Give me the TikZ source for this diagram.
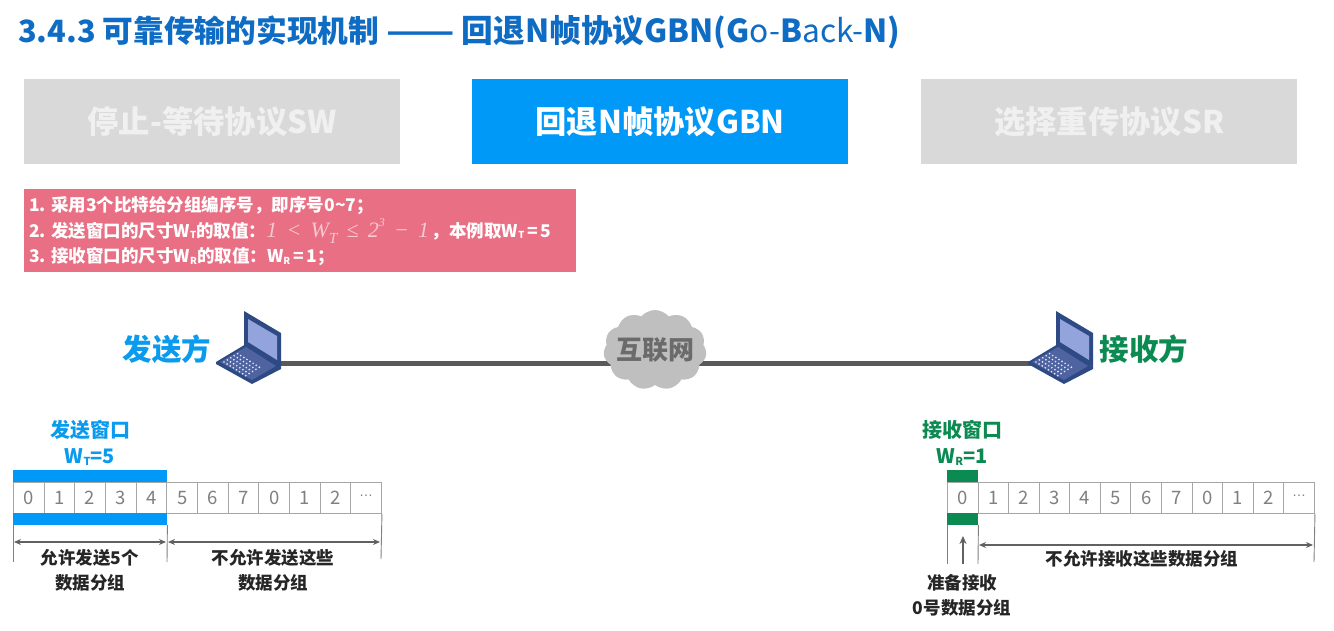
\documentclass[tikz,border=0pt]{standalone}
\usepackage{fontspec}
\setmainfont{Noto Sans CJK SC}
\newfontfamily\serifit{Liberation Serif}
\newfontfamily\dotfont{Liberation Sans}
\usetikzlibrary{arrows.meta,shapes.symbols}
\newcommand\fsz[2]{\fontsize{#1}{#2}\selectfont}
\newcommand\sbs[1]{\raisebox{-0.1em}{\scalebox{0.55}{#1}}}
\newcommand\celldots{{\dotfont\fsz{14}{14}\raisebox{0.25em}{…}}}
\definecolor{titleblue}{HTML}{0F6CC4}
\definecolor{tabgrey}{HTML}{D9D9D9}
\definecolor{tabblue}{HTML}{0099F7}
\definecolor{pinkbox}{HTML}{E96F84}
\definecolor{skyblue}{HTML}{0A9BEF}
\definecolor{dgreen}{HTML}{0B8A52}
\definecolor{lapdark}{HTML}{2E4A85}
\definecolor{lapscreen}{HTML}{93A3DC}
\definecolor{lapbase}{HTML}{4E639F}
\tikzset{
  x=1pt,y=-1pt,
  tab/.style={minimum width=376pt,minimum height=85pt,inner sep=0pt,anchor=north west,font=\fsz{31.3}{36}\bfseries},
  pinkline/.style={anchor=west,inner sep=0pt,text=white,font=\fsz{17.5}{20}\bfseries},
  cell/.style={draw=black!35,line width=0.9pt,fill=white,minimum width=30.67pt,minimum height=31pt,inner sep=0pt,anchor=north west,text=black!50,font=\fsz{18.5}{20}},
  winbar/.style={minimum width=#1,minimum height=11.5pt,inner sep=0pt,anchor=north west},
  tick/.style={draw=black!50,line width=0.9pt},
  dim/.style={draw=black!62,line width=1.6pt,{Stealth[length=7pt,width=6pt]}-{Stealth[length=7pt,width=6pt]}},
  upar/.style={draw=black!62,line width=1.6pt,-{Stealth[length=8pt,width=7pt]}},
  lbl/.style={align=center,inner sep=0pt,text=black!85,font=\fsz{17.5}{25}\bfseries},
  wintitle/.style={align=center,inner sep=0pt,font=\fsz{20}{26}\bfseries},
  party/.style={inner sep=0pt,font=\fsz{29.5}{32}\bfseries},
  link/.style={draw=black!65,line width=5pt},
  netcloud/.style={cloud,cloud puffs=11,cloud puff arc=100,aspect=1.3,fill=black!25,inner sep=0pt,minimum width=103pt,minimum height=80pt},
  netlabel/.style={inner sep=0pt,text=black!58,font=\fsz{26}{28}\bfseries},
}
\newcommand\laptop[1]{%
  \begin{scope}[shift={(#1,0)}]
    \fill[lapdark] (244,311) -- (281,333) -- (281,367) -- (246,347) -- (244,345) -- cycle;
    \fill[lapscreen] (248,319) -- (277,336) -- (277,360) -- (248,342) -- cycle;
    \fill[lapdark] (216,362) -- (246,344) -- (281,367) -- (281,369) -- (252,384) -- (216,364) -- cycle;
    \fill[lapbase] (220,362) -- (246,347) -- (276,366) -- (252,380) -- cycle;
    \foreach \a in {0,...,7}{\foreach \b in {0,...,4}{
      \fill[white!85!lapbase] ({224+\a*3.1+\b*3.4},{362+\a*1.95-\b*2.1}) circle (0.95pt);}}
  \end{scope}}
\begin{document}
\begin{tikzpicture}
\useasboundingbox (0,0) rectangle (1334,631);
\fill[white] (0,0) rectangle (1334,631);

% title
\node[anchor=west,inner sep=0pt,text=titleblue,font=\fsz{30.7}{34}\bfseries] (title) at (18,32)
  {3.4.3 可靠传输的实现机制 \scalebox{1.3}[1]{——} {\fsz{31.7}{34}回退N帧协议GBN(G{\mdseries o-}B{\mdseries ack-}N)}};

% tabs
\node[tab,fill=tabgrey,text=white!94!black] (tabsw) at (24,79) {停止-等待协议SW};
\node[tab,fill=tabblue,text=white] (tabgbn) at (472,79) {回退N帧协议GBN};
\node[tab,fill=tabgrey,text=white!94!black] (tabsr) at (921,79) {选择重传协议SR};

% rules box
\node[fill=pinkbox,minimum width=552pt,minimum height=83pt,inner sep=0pt,anchor=north west] (rules) at (24,189) {};
\node[pinkline] (r1) at (29,205.5) {1. 采用3个比特给分组编序号，即序号0\textasciitilde 7；};
\node[pinkline] (r2) at (29,231) {2. 发送窗口的尺寸W\sbs{T}的取值：{\serifit\mdseries\itshape\fsz{22}{22}\color{white!62!pinkbox}1 \,<\, W\raisebox{-0.3em}{\scalebox{0.7}{T}} \,≤\, 2\raisebox{0.5em}{\scalebox{0.55}{3}} \,−\, 1}\,，本例取W\sbs{T}\,=\,5};
\node[pinkline] (r3) at (29,256.5) {3. 接收窗口的尺寸W\sbs{R}的取值：W\sbs{R}\,=\,1；};

% network
\coordinate (sendport) at (270,363);
\coordinate (recvport) at (1045,363);
\coordinate (netport) at (655,363);
\draw[link] (sendport) -- (netport);
\draw[link] (netport) -- (recvport);
\node[netcloud] (net) at (655,350) {};
\node[netlabel] (netname) at (net.center) {互联网};
\laptop{0}
\laptop{812}
\node[party,text=skyblue] (sender) at (167,349) {发送方};
\node[party,text=dgreen] (receiver) at (1144,349) {接收方};

% sender window
\node[wintitle,text=skyblue] (swin) at (90,443) {发送窗口\\W\sbs{T}=5};
\foreach \i/\t in {0/0,1/1,2/2,3/3,4/4,5/5,6/6,7/7,8/0,9/1,10/2,11/\celldots}
  \node[cell] (s\i) at ({13+\i*30.67},482) {\t};
\node[winbar=154pt,fill=tabblue] (stop) at (13,470) {};
\node[winbar=154pt,fill=tabblue] (sbot) at (13,513) {};

\coordinate (s1end) at (13,562);
\coordinate (s2end) at (167,562);
\coordinate (s3end) at (381,559);
\draw[tick] (sbot.south west) -- (s1end);
\draw[tick] (sbot.south east) -- (s2end);
\draw[tick] (s11.south east) -- (s3end);
\coordinate (sa1) at (14,542);
\coordinate (sa2) at (166,542);
\coordinate (sa3) at (168,542);
\coordinate (sa4) at (380,542);
\draw[dim] (sa1) -- (sa2);
\draw[dim] (sa3) -- (sa4);
\node[lbl] (sl1) at (90,570) {允许发送5个\\数据分组};
\node[lbl] (sl2) at (273,570) {不允许发送这些\\数据分组};

% receiver window
\node[wintitle,text=dgreen] (rwin) at (962,443) {接收窗口\\W\sbs{R}=1};
\foreach \i/\t in {0/0,1/1,2/2,3/3,4/4,5/5,6/6,7/7,8/0,9/1,10/2,11/\celldots}
  \node[cell] (q\i) at ({947+\i*30.58},482) {\t};
\node[winbar=31pt,fill=dgreen] (rtop) at (947,470) {};
\node[winbar=31pt,fill=dgreen] (rbot) at (947,513) {};

\coordinate (r1end) at (947,564);
\coordinate (r2end) at (978,564);
\coordinate (r3end) at (1314,562);
\draw[tick] (rbot.south west) -- (r1end);
\draw[tick] (rbot.south east) -- (r2end);
\draw[tick] (q11.south east) -- (r3end);
\coordinate (up1) at (963,564);
\coordinate (up2) at (963,536);
\draw[upar] (up1) -- (up2);
\coordinate (ra1) at (979,545);
\coordinate (ra2) at (1313,545);
\draw[dim] (ra1) -- (ra2);
\node[lbl] (rl1) at (1142,559) {不允许接收这些数据分组};
\node[lbl] (rl2) at (962,595) {准备接收\\0号数据分组};
\end{tikzpicture}
\end{document}
